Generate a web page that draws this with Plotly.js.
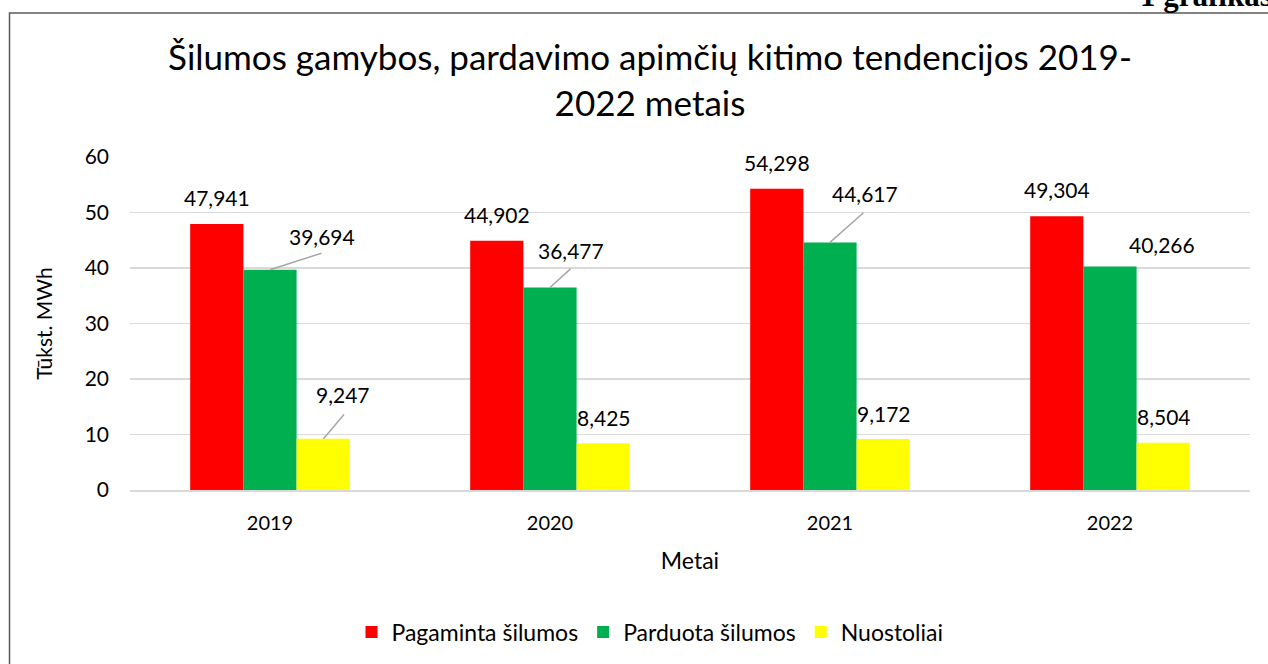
<!DOCTYPE html>
<html>
<head>
<meta charset="utf-8">
<script src="https://cdn.plot.ly/plotly-3.0.1.min.js"></script>
<style>body{margin:0;padding:0;background:#fff;} #chart{width:1268px;height:664px;}</style>
</head>
<body>
<div id="chart"></div>
<script>
// ---- data ----
const years = ["2019", "2020", "2021", "2022"];
const seriesNames = ["Pagaminta šilumos", "Parduota šilumos", "Nuostoliai"];
const pagaminta = [47.941, 44.902, 54.298, 49.304];
const parduota = [39.694, 36.477, 44.617, 40.266];
const nuostoliai = [9.247, 8.425, 9.172, 8.504];
const yTicks = [0, 10, 20, 30, 40, 50, 60];

// ---- styling / label placement (pixels relative to bar top centre) ----
const colors = ["#FF0000", "#00B050", "#FFFF00"];
const allSeries = [pagaminta, parduota, nuostoliai];
const barStep = 53.5;
// [dx, dy] of label centre; leader = [lx, ly] end of leader line or null
const labelPlacement = [
  [[0,-26,null],[0,-26,null],[0,-26,null],[0,-27,null]],
  [[52,-33,[53,-17]],[21,-37,[22,-20]],[35,-49,[35,-31]],[52,-22,null]],
  [[19,-44,[22,-26]],[0,-26,null],[0,-26,null],[0,-26,null]]
];

const FONT = "Lato, 'Open Sans', sans-serif";
const fmt = v => v.toFixed(3).replace('.', ',');

const traces = allSeries.map((vals, s) => ({
  type: 'bar',
  name: seriesNames[s],
  x: years,
  y: vals,
  marker: {color: colors[s], line: {width: 0}},
  hoverinfo: 'skip'
}));

const annotations = [];
allSeries.forEach((vals, s) => {
  vals.forEach((v, i) => {
    const p = labelPlacement[s][i];
    const xs = (s - 1) * barStep;
    // category axes take the serial index of the category
    annotations.push({
      x: i, y: v, xref: 'x', yref: 'y',
      xshift: xs + p[0], yshift: -p[1],
      text: fmt(v), showarrow: false,
      font: {family: FONT, size: 21, color: '#000'},
      xanchor: 'center', yanchor: 'middle'
    });
    if (p[2]) {
      annotations.push({
        x: i, y: v, xref: 'x', yref: 'y',
        xshift: xs,
        text: ' ', font: {size: 1},
        showarrow: true, arrowhead: 0, arrowwidth: 1.5, arrowcolor: '#A6A6A6',
        ax: p[2][0], ay: p[2][1], standoff: 0, startstandoff: 0
      });
    }
  });
});

// "1 grafikas" heading, partially cut off at top
annotations.push({
  xref: 'paper', yref: 'paper',
  x: (1138 - 130) / 1120, y: (491 - 15) / 334,
  xanchor: 'left', yanchor: 'bottom',
  text: '<b>1 grafikas</b>', showarrow: false,
  font: {family: "'Liberation Serif', 'Times New Roman', serif", size: 31, color: '#000'}
});

const layout = {
  width: 1268, height: 664,
  margin: {l: 130, r: 18, t: 157, b: 173},
  paper_bgcolor: '#fff', plot_bgcolor: '#fff',
  font: {family: FONT, color: '#000'},
  title: {
    text: 'Šilumos gamybos, pardavimo apimčių kitimo tendencijos 2019-<br>2022 metais',
    font: {family: FONT, size: 35, color: '#000'},
    x: 650 / 1268, xanchor: 'center', xref: 'container',
    y: 1 - 70 / 664, yanchor: 'middle', yref: 'container'
  },
  barmode: 'group',
  bargap: 0.43,
  bargroupgap: 0,
  showlegend: true,
  legend: {
    orientation: 'h',
    x: (650 - 130) / 1120, xanchor: 'center',
    y: (491 - 632) / 334, yanchor: 'middle',
    font: {family: FONT, size: 23, color: '#000'},
    traceorder: 'normal'
  },
  xaxis: {
    type: 'category',
    showgrid: false,
    showline: true, linecolor: '#D9D9D9', linewidth: 1.5,
    ticks: '', ticklabelstandoff: 14,
    tickfont: {family: FONT, size: 20, color: '#000'},
    title: {text: 'Metai', font: {family: FONT, size: 23, color: '#000'}, standoff: 20},
    fixedrange: true
  },
  yaxis: {
    range: [0, 60],
    tickmode: 'array', tickvals: yTicks, ticktext: yTicks.map(String),
    showgrid: true, gridcolor: '#D9D9D9', gridwidth: 1.5,
    zeroline: false, showline: false,
    ticks: '', ticklabelstandoff: 20,
    tickfont: {family: FONT, size: 21, color: '#000'},
    title: {text: 'Tūkst. MWh', font: {family: FONT, size: 21, color: '#000'}, standoff: 26},
    fixedrange: true
  },
  shapes: [{
    type: 'rect', xref: 'paper', yref: 'paper',
    x0: (9.5 - 130) / 1120, x1: (1300 - 130) / 1120,
    y0: (491 - 700) / 334, y1: (491 - 12.5) / 334,
    line: {color: '#595959', width: 1.5}, fillcolor: 'rgba(0,0,0,0)', layer: 'below'
  }],
  annotations: annotations
};

Plotly.newPlot('chart', traces, layout, {displayModeBar: false, staticPlot: true});
</script>
</body>
</html>
